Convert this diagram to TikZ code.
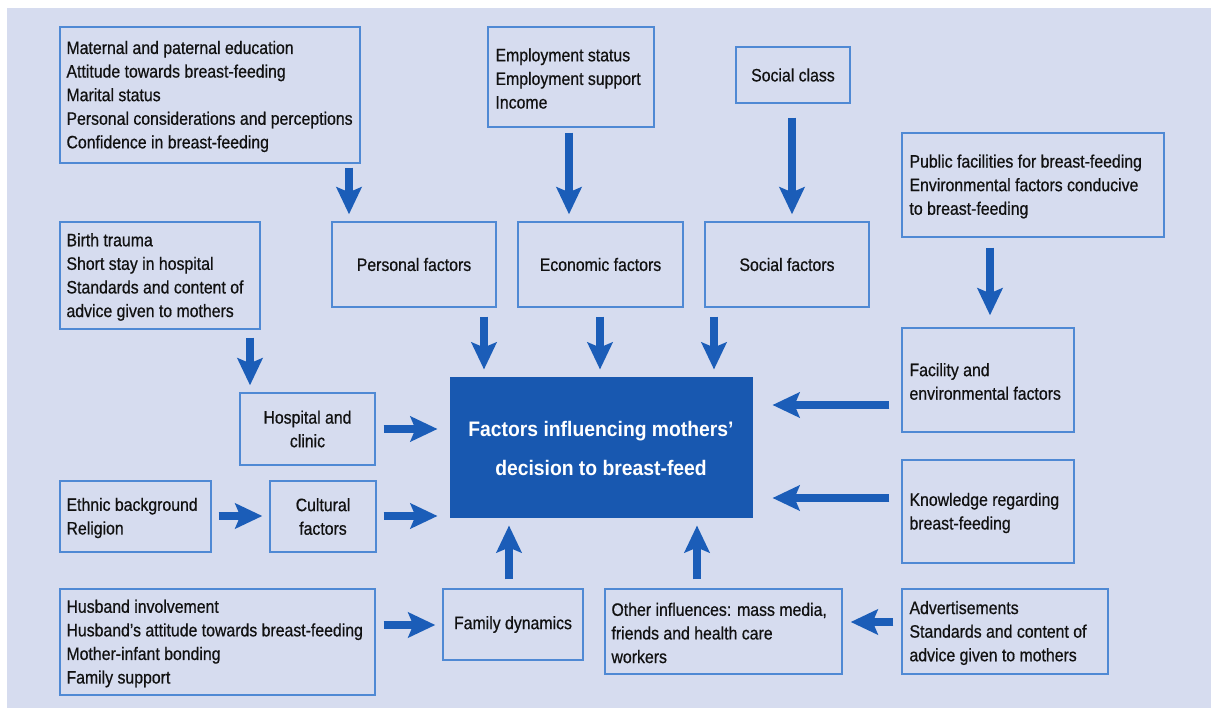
\documentclass[tikz,border=0pt]{standalone}
\usepackage{fontspec}
\setmainfont{Liberation Sans}[FakeStretch=0.88, RawFeature={embolden=0.6}]
\newfontfamily\ctrfont{Liberation Sans}[FakeStretch=0.92]
\usetikzlibrary{arrows.meta,calc}
\definecolor{bgc}{HTML}{D6DCEF}
\definecolor{boxc}{HTML}{4F89D4}
\definecolor{arrc}{HTML}{1B5DB8}
\definecolor{ctrc}{HTML}{1858B0}
\definecolor{txtc}{HTML}{111111}
\tikzset{
  txt/.style={inner sep=0pt, text=txtc, font=\fontsize{18}{23.6}\selectfont},
  box/.style={txt, draw=boxc, line width=1.4pt, rectangle},
  ltxt/.style={txt, align=left, anchor=west, yshift=-1.5pt},
  cbox/.style={box, align=center},
  arr/.style={draw=arrc, line width=8pt, -{Stealth[length=27pt,width=25pt,inset=5pt]}},
}
\begin{document}
\begin{tikzpicture}[x=1pt,y=-1pt]
\useasboundingbox (0,0) rectangle (1211,708);
\fill[bgc] (7,8) rectangle (1211,708);
% boxes
\node[box, minimum width=300pt, minimum height=136pt] (tl) at (210,95) {};
\node[ltxt] (tlt) at ([xshift=7pt]tl.west) {Maternal and paternal education\\Attitude towards breast-feeding\\Marital status\\Personal considerations and perceptions\\Confidence in breast-feeding};
\node[box, minimum width=166pt, minimum height=100pt] (emp) at (571,77) {};
\node[ltxt] (empt) at ([xshift=8pt]emp.west) {Employment status\\Employment support\\Income};
\node[cbox, minimum width=114pt, minimum height=56pt] (sc) at (793,75) {Social class};
\node[box, minimum width=262pt, minimum height=104pt] (pub) at (1033,185) {};
\node[ltxt] (pubt) at ([xshift=8pt]pub.west) {Public facilities for breast-feeding\\Environmental factors conducive\\to breast-feeding};
\node[box, minimum width=200pt, minimum height=107pt] (bt) at (160,275.5) {};
\node[ltxt] (btt) at ([xshift=7pt]bt.west) {Birth trauma\\Short stay in hospital\\Standards and content of\\advice given to mothers};
\node[cbox, minimum width=164pt, minimum height=85pt] (pf) at (414,264.5) {Personal factors};
\node[cbox, minimum width=165pt, minimum height=85pt] (ef) at (600.5,264.5) {Economic factors};
\node[cbox, minimum width=164pt, minimum height=85pt] (sf) at (787,264.5) {Social factors};
\node[box, minimum width=172pt, minimum height=104pt] (fac) at (988,380) {};
\node[ltxt] (fact) at ([xshift=8pt]fac.west) {Facility and\\environmental factors};
\node[cbox, minimum width=135pt, minimum height=72pt] (hos) at (307.5,429) {Hospital and\\clinic};
\node[draw=ctrc, fill=ctrc, line width=1pt, minimum width=302pt, minimum height=140pt, inner sep=0pt,
  text=white, align=center, font=\ctrfont\bfseries\fontsize{21}{39}\selectfont] (ctr) at (601,448)
  {Factors influencing mothers’\\decision to breast-feed};
\node[box, minimum width=172pt, minimum height=103pt] (kn) at (988,511.5) {};
\node[ltxt] (knt) at ([xshift=8pt]kn.west) {Knowledge regarding\\breast-feeding};
\node[box, minimum width=151pt, minimum height=71pt] (eth) at (135.5,516.5) {};
\node[ltxt] (etht) at ([xshift=7pt]eth.west) {Ethnic background\\Religion};
\node[cbox, minimum width=106pt, minimum height=71pt] (cul) at (323,516.5) {Cultural\\factors};
\node[box, minimum width=315pt, minimum height=106pt] (hus) at (217.5,642) {};
\node[ltxt] (hust) at ([xshift=7pt]hus.west) {Husband involvement\\Husband’s attitude towards breast-feeding\\Mother-infant bonding\\Family support};
\node[cbox, minimum width=140pt, minimum height=71pt] (fam) at (513,624.5) {Family dynamics};
\node[box, minimum width=237pt, minimum height=85pt] (oth) at (723.5,631.5) {};
\node[ltxt] (otht) at ([xshift=7pt]oth.west) {Other influences: mass media,\\friends and health care\\workers};
\node[box, minimum width=206pt, minimum height=85pt] (adv) at (1005,631.5) {};
\node[ltxt] (advt) at ([xshift=8pt]adv.west) {Advertisements\\Standards and content of\\advice given to mothers};
% arrows
\draw[arr] ($(tl.south -| 349,0)+(0,4)$) -- ($(pf.north -| 349,0)+(0,-7)$);
\draw[arr] ($(emp.south -| 569,0)+(0,5)$) -- ($(ef.north -| 569,0)+(0,-7)$);
\draw[arr] ($(sc.south -| 792,0)+(0,14)$) -- ($(sf.north -| 792,0)+(0,-7)$);
\draw[arr] ($(pub.south -| 990,0)+(0,10)$) -- ($(fac.north -| 990,0)+(0,-12)$);
\draw[arr] ($(bt.south -| 250,0)+(0,8)$) -- ($(hos.north -| 250,0)+(0,-7)$);
\draw[arr] ($(pf.south -| 484,0)+(0,9)$) -- ($(ctr.north -| 484,0)+(0,-8)$);
\draw[arr] ($(ef.south -| 600,0)+(0,9)$) -- ($(ctr.north -| 600,0)+(0,-8)$);
\draw[arr] ($(sf.south -| 714,0)+(0,9)$) -- ($(ctr.north -| 714,0)+(0,-8)$);
\draw[arr] ($(fac.west |- 0,405)+(-12,0)$) -- ($(ctr.east |- 0,405)+(20,0)$);
\draw[arr] ($(kn.west |- 0,498)+(-12,0)$) -- ($(ctr.east |- 0,498)+(20,0)$);
\draw[arr] ($(hos.east |- 0,429)+(8,0)$) -- ($(ctr.west |- 0,429)+(-12,0)$);
\draw[arr] ($(cul.east |- 0,516)+(7,0)$) -- ($(ctr.west |- 0,516)+(-12,0)$);
\draw[arr] ($(eth.east |- 0,516)+(7,0)$) -- ($(cul.west |- 0,516)+(-7,0)$);
\draw[arr] ($(hus.east |- 0,625)+(8,0)$) -- ($(fam.west |- 0,625)+(-7,0)$);
\draw[arr] ($(fam.north -| 509,0)+(0,-9)$) -- ($(ctr.south -| 509,0)+(0,7)$);
\draw[arr] ($(oth.north -| 697,0)+(0,-9)$) -- ($(ctr.south -| 697,0)+(0,7)$);
\draw[arr] ($(adv.west |- 0,622)+(-8,0)$) -- ($(oth.east |- 0,622)+(8,0)$);
\end{tikzpicture}
\end{document}
